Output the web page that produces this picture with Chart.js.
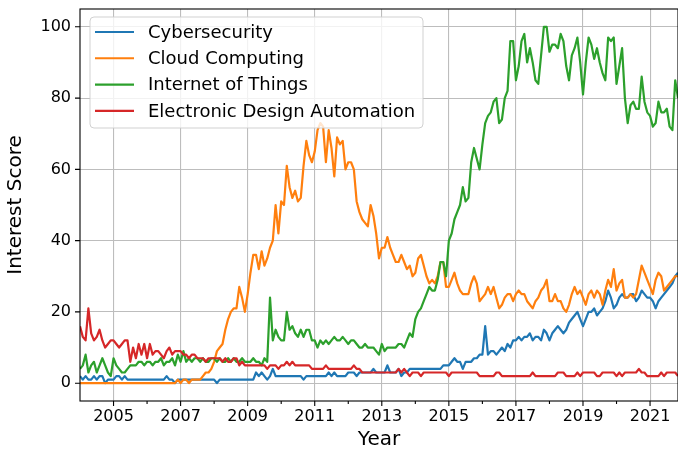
<!DOCTYPE html>
<html>
<head>
<meta charset="utf-8">
<script src="https://cdn.jsdelivr.net/npm/chart.js@4/dist/chart.umd.min.js"></script>
<style>
html,body{margin:0;padding:0;background:#fff;}
#wrap{width:678px;height:457px;position:relative;}
</style>
</head>
<body>
<div id="wrap"><canvas id="c" width="678" height="457"></canvas></div>
<script>
// ---- data (monthly, starting January 2004) ----
const startYear = 2004;
const seriesLabels = ['Cybersecurity', 'Cloud Computing', 'Internet of Things', 'Electronic Design Automation'];
const yearTicks = [2005, 2007, 2009, 2011, 2013, 2015, 2017, 2019, 2021];
const minorYearTicks = [2006, 2008, 2010, 2012, 2014, 2016, 2018, 2020];
const scoreTicks = [0, 20, 40, 60, 80, 100];

const cybersecurity = [
  2,1,2,1,1,2,1,2,2,0,1,1,
  1,2,2,1,2,1,1,1,1,1,1,1,
  1,1,1,1,1,1,1,2,1,1,0,1,
  1,1,1,1,1,1,1,1,1,1,1,1,
  1,0,1,1,1,1,1,1,1,1,1,1,
  1,1,1,3,2,3,2,1,2,4,2,2,
  2,2,2,2,2,2,2,2,1,2,2,2,
  2,2,2,2,2,3,2,3,2,2,2,2,
  3,3,3,2,3,3,3,3,3,4,3,3,
  3,3,5,3,3,3,4,2,3,3,4,4,
  4,4,4,4,4,4,4,4,4,4,5,5,
  5,6,7,6,6,4,6,6,6,7,7,8,
  8,16,8,9,9,8,9,10,9,11,10,12,
  12,13,12,13,13,14,12,13,13,12,15,14,
  12,14,15,16,15,14,15,17,18,19,20,18,
  16,18,20,20,21,19,20,21,23,26,24,21,
  22,24,25,24,24,25,25,23,24,26,25,24,
  24,23,21,23,24,25,26,27,28,30,31
];
const cloudComputing = [
  0,0,0,0,0,0,0,0,0,0,0,0,
  0,0,0,0,0,0,0,0,0,0,0,0,
  0,0,0,0,0,0,0,0,0,0,0,1,
  0,1,1,0,1,1,1,1,2,3,3,4,
  6,9,10,11,15,18,20,21,21,27,24,20,
  25,31,36,36,32,37,33,35,38,40,50,42,
  51,50,61,55,52,54,51,52,61,68,64,62,
  65,71,73,72,62,71,66,58,69,67,68,60,
  62,62,60,51,48,46,45,44,50,47,42,35,
  38,38,41,38,36,34,34,36,34,32,33,30,
  31,35,36,33,30,28,29,28,30,34,34,27,
  27,29,31,28,26,25,25,25,28,30,28,23,
  24,25,27,25,27,24,21,22,24,25,25,23,
  25,26,25,25,23,22,21,23,24,26,27,29,
  23,23,25,23,23,21,20,22,25,27,25,26,
  24,22,25,26,24,26,25,22,26,29,27,32,
  26,28,29,24,24,25,24,25,29,33,31,29,
  27,25,29,31,30,26,27,28,29,30,30
];
const internetOfThings = [
  4,5,8,3,5,6,3,5,7,5,3,2,
  7,5,4,3,3,4,5,5,5,6,6,5,
  6,6,5,6,6,7,5,6,6,7,5,8,
  6,9,6,7,6,7,7,6,7,6,6,7,
  7,6,7,6,6,7,6,7,6,6,7,6,
  6,6,7,6,6,5,7,6,24,12,15,13,
  12,12,20,15,16,14,13,15,13,15,15,12,
  12,10,12,11,12,11,12,13,12,12,13,12,
  11,12,12,11,10,10,11,10,10,10,9,8,
  11,9,10,10,10,10,11,11,10,12,14,13,
  18,20,21,23,25,27,26,26,29,34,34,30,
  40,42,46,48,50,55,51,52,62,66,63,60,
  67,73,75,76,79,80,73,74,80,82,96,96,
  85,89,96,98,90,94,90,85,84,92,100,100,
  93,95,95,94,98,96,89,85,92,94,97,90,
  81,90,97,95,91,94,90,87,85,97,96,97,
  84,89,94,80,73,78,79,77,77,86,79,76,
  75,72,73,79,76,76,77,72,71,85,80
];
const electronicDesignAutomation = [
  16,13,12,21,14,12,13,15,12,10,11,12,
  12,11,10,11,12,12,6,10,7,11,8,11,
  7,11,8,9,9,8,7,9,10,8,9,9,
  9,8,8,7,8,8,7,7,7,6,7,7,
  7,7,7,6,7,6,6,7,7,5,6,5,
  5,5,5,5,5,5,5,4,5,5,5,4,
  5,5,6,5,6,5,5,5,5,5,5,4,
  4,4,4,4,5,4,4,4,4,4,4,4,
  4,4,5,4,4,3,3,3,3,3,3,3,
  3,3,3,3,3,3,4,3,4,3,2,3,
  3,3,2,3,3,3,3,3,3,3,3,3,
  2,3,3,3,3,3,3,3,3,3,3,2,
  2,2,2,2,2,3,3,2,2,2,2,2,
  2,2,2,2,2,2,3,2,2,2,2,2,
  2,2,2,3,3,3,2,2,2,2,3,2,
  3,3,3,3,3,2,2,3,3,3,3,3,
  2,3,2,3,3,3,3,3,4,3,3,2,
  2,2,2,2,3,2,3,3,3,3,2
];

// ---- chart ----
const seriesValues = [cybersecurity, cloudComputing, internetOfThings, electronicDesignAutomation];
const colors = ['#1f77b4', '#ff7f0e', '#2ca02c', '#d62728'];
const toPoints = arr => arr.map((v, i) => ({ x: startYear + i / 12, y: v }));
const lastX = startYear + (cybersecurity.length - 1) / 12;
const FONT = "'DejaVu Sans', sans-serif";

const decorPlugin = {
  id: 'decor',
  afterDraw(chart) {
    const ctx = chart.ctx, a = chart.chartArea, xs = chart.scales.x, ys = chart.scales.y;
    ctx.save();
    ctx.strokeStyle = '#000';
    ctx.lineWidth = 1.1;
    ctx.beginPath();
    yearTicks.forEach(v => {
      const px = xs.getPixelForValue(v);
      ctx.moveTo(px, a.bottom); ctx.lineTo(px, a.bottom + 5);
    });
    minorYearTicks.forEach(v => {
      const px = xs.getPixelForValue(v);
      ctx.moveTo(px, a.bottom); ctx.lineTo(px, a.bottom + 3);
    });
    scoreTicks.forEach(v => {
      const py = ys.getPixelForValue(v);
      ctx.moveTo(a.left, py); ctx.lineTo(a.left - 5, py);
    });
    ctx.stroke();
    ctx.strokeRect(a.left, a.top, a.right - a.left, a.bottom - a.top);

    // legend (upper left, inside axes)
    const lx = a.left + 10, ly = a.top + 8, lw = 333, lh = 111, r = 4;
    ctx.beginPath();
    ctx.moveTo(lx + r, ly);
    ctx.lineTo(lx + lw - r, ly); ctx.quadraticCurveTo(lx + lw, ly, lx + lw, ly + r);
    ctx.lineTo(lx + lw, ly + lh - r); ctx.quadraticCurveTo(lx + lw, ly + lh, lx + lw - r, ly + lh);
    ctx.lineTo(lx + r, ly + lh); ctx.quadraticCurveTo(lx, ly + lh, lx, ly + lh - r);
    ctx.lineTo(lx, ly + r); ctx.quadraticCurveTo(lx, ly, lx + r, ly);
    ctx.closePath();
    ctx.fillStyle = 'rgba(255,255,255,0.8)';
    ctx.fill();
    ctx.strokeStyle = 'rgba(204,204,204,0.9)';
    ctx.lineWidth = 1;
    ctx.stroke();
    ctx.font = '18px ' + FONT;
    ctx.textBaseline = 'middle';
    ctx.textAlign = 'left';
    chart.data.datasets.forEach((ds, k) => {
      const yy = ly + 15 + k * 26.3;
      ctx.strokeStyle = ds.borderColor;
      ctx.lineWidth = 2.1;
      ctx.beginPath();
      ctx.moveTo(lx + 5, yy); ctx.lineTo(lx + 44, yy);
      ctx.stroke();
      ctx.fillStyle = '#000';
      ctx.fillText(ds.label, lx + 58, yy + 1);
    });
    ctx.restore();
  }
};

new Chart(document.getElementById('c'), {
  type: 'line',
  data: {
    datasets: seriesValues.map((vals, k) => ({
      label: seriesLabels[k],
      data: toPoints(vals),
      borderColor: colors[k],
      backgroundColor: colors[k],
      borderWidth: 2.2,
      pointRadius: 0,
      tension: 0,
      borderJoinStyle: 'round',
      fill: false,
      order: 4 - k
    }))
  },
  options: {
    responsive: false,
    animation: false,
    devicePixelRatio: 1,
    layout: { padding: { top: 9, right: 0, left: 0, bottom: 0 } },
    plugins: { legend: { display: false }, tooltip: { enabled: false } },
    scales: {
      x: {
        type: 'linear',
        min: startYear,
        max: lastX,
        afterBuildTicks: s => { s.ticks = yearTicks.map(v => ({ value: v })); },
        afterFit: s => { s.height = 56; },
        grid: { color: '#bdbdbd', lineWidth: 1.1, drawTicks: false },
        border: { display: false },
        ticks: { color: '#000', font: { family: FONT, size: 16 }, padding: 6, maxRotation: 0, autoSkip: false, callback: v => String(v) },
        title: { display: true, text: 'Year', color: '#000', font: { family: FONT, size: 20 }, padding: { top: 0, bottom: 5 } }
      },
      y: {
        type: 'linear',
        min: -5,
        max: 105,
        afterBuildTicks: s => { s.ticks = scoreTicks.map(v => ({ value: v })); },
        afterFit: s => { s.width = 80; s.paddingTop = 0; s.paddingBottom = 0; },
        grid: { color: '#bdbdbd', lineWidth: 1.1, drawTicks: false },
        border: { display: false },
        ticks: { color: '#000', font: { family: FONT, size: 16 }, padding: 9, callback: v => String(v) },
        title: { display: true, text: 'Interest Score', color: '#000', font: { family: FONT, size: 20 }, padding: { top: 4, bottom: 0 } }
      }
    }
  },
  plugins: [decorPlugin]
});
</script>
</body>
</html>
